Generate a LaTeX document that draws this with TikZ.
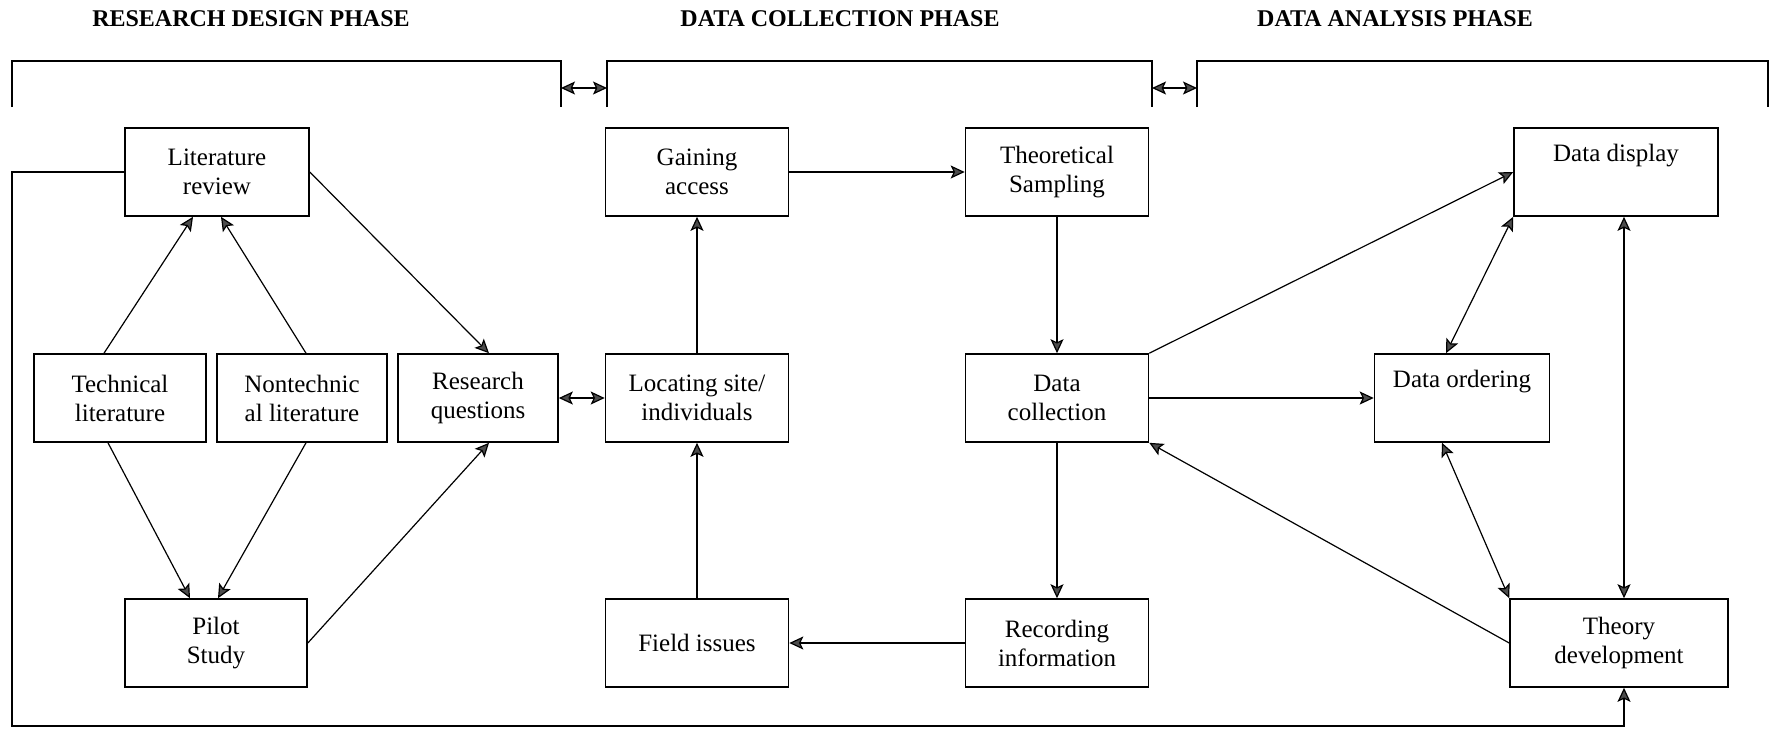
\documentclass[tikz,border=0pt]{standalone}
\usepackage{fontspec}
\setmainfont{Liberation Serif}
\usetikzlibrary{arrows.meta}
\tikzset{
    phase-title/.style = {font=\fontsize{12}{14}\selectfont\bfseries, inner sep=0pt},
    phase-box/.style = {draw, line width=0.8pt, rectangle, minimum height=44pt, align=center, inner sep=2pt, font=\fontsize{12.5}{14.5}\selectfont},
    bracket-line/.style = {line width=0.8pt},
    flow-arrow/.style = {line width=0.6pt, -{Stealth[length=7pt, width=6.5pt, inset=1.5pt, fill=black!70]}},
    both-arrow/.style = {line width=0.6pt, {Stealth[length=7pt, width=6.5pt, inset=1.5pt, fill=black!70]}-{Stealth[length=7pt, width=6.5pt, inset=1.5pt, fill=black!70]}},
}
\begin{document}
\begin{tikzpicture}[x=0.5pt, y=-0.5pt]
\useasboundingbox (0,0) rectangle (1771,730);

% phase titles and brackets
\node[phase-title] (design-title) at (251,19) {RESEARCH DESIGN PHASE};
\node[phase-title] (collect-title) at (840,19) {DATA COLLECTION PHASE};
\node[phase-title] (analysis-title) at (1395,19) {DATA ANALYSIS PHASE};
\draw[bracket-line] (12,107) |- (561,61) -- (561,107);
\draw[bracket-line] (607,107) |- (1152,61) -- (1152,107);
\draw[bracket-line] (1197,107) |- (1768,61) -- (1768,107);
\coordinate (design-end) at (561,88);
\coordinate (collect-start) at (607,88);
\coordinate (collect-end) at (1152,88);
\coordinate (analysis-start) at (1197,88);
\draw[both-arrow] (design-end) -- (collect-start);
\draw[both-arrow] (collect-end) -- (analysis-start);

% research design
\node[phase-box, minimum width=92pt] (litrev) at (217,172) {Literature\\review};
\node[phase-box, minimum width=86pt] (techlit) at (120,398) {Technical\\literature};
\node[phase-box, minimum width=85pt] (nontechlit) at (302,398) {Nontechnic\\al literature};
\node[phase-box, minimum width=80pt] (resq) at (478,398) {Research\\questions};
\node[phase-box, minimum width=91pt] (pilot) at (216,643) {Pilot\\Study};

% data collection
\node[phase-box, minimum width=91.5pt] (gain) at (697,172) {Gaining\\access};
\node[phase-box, minimum width=91.5pt] (locate) at (697,398) {Locating site/\\individuals};
\node[phase-box, minimum width=91.5pt] (field) at (697,643) {Field issues};
\node[phase-box, minimum width=91.5pt] (theosamp) at (1057,172) {Theoretical\\Sampling};
\node[phase-box, minimum width=91.5pt] (datacol) at (1057,398) {Data\\collection};
\node[phase-box, minimum width=91.5pt] (record) at (1057,643) {Recording\\information};

% data analysis
\node[phase-box, minimum width=102pt] (display) at (1616,172) {Data display\\\strut};
\node[phase-box, minimum width=87.5pt] (ordering) at (1462,398) {Data ordering\\\strut};
\node[phase-box, minimum width=109pt] (theory) at (1619,643) {Theory\\development};

% arrows
\draw[flow-arrow] ([xshift=-8pt]techlit.north) -- ([xshift=-12pt]litrev.south);
\draw[flow-arrow] ([xshift=2pt]nontechlit.north) -- ([xshift=2pt]litrev.south);
\draw[flow-arrow] (litrev.east) -- ([xshift=5.5pt]resq.north);
\draw[flow-arrow] ([xshift=-6pt]techlit.south) -- ([xshift=-13pt]pilot.south |- pilot.north);
\draw[flow-arrow] ([xshift=2pt]nontechlit.south) -- ([xshift=1pt]pilot.north);
\draw[flow-arrow] (pilot.east) -- ([xshift=5.5pt]resq.south);
\draw[both-arrow] (resq.east) -- (locate.west);
\draw[flow-arrow] (locate.north) -- (gain.south);
\draw[flow-arrow] (field.north) -- (locate.south);
\draw[flow-arrow] (gain.east) -- (theosamp.west);
\draw[flow-arrow] (theosamp.south) -- (datacol.north);
\draw[flow-arrow] (datacol.south) -- (record.north);
\draw[flow-arrow] (record.west) -- (field.east);
\draw[flow-arrow] (datacol.north east) -- (display.west);
\draw[flow-arrow] (datacol.east) -- (ordering.west);
\draw[flow-arrow] (theory.west) -- (datacol.south east);
\draw[both-arrow] (display.south west) -- ([xshift=-8pt]ordering.north);
\draw[both-arrow] ([xshift=-10pt]ordering.south) -- (theory.north west);
\draw[both-arrow] ([xshift=4pt]display.south) -- ([xshift=4pt]display.south |- theory.north);

% feedback loop
\coordinate (loop-corner) at (12,726);
\draw[flow-arrow] (litrev.west) -| (loop-corner) -| ([xshift=2.5pt]theory.south);
\end{tikzpicture}
\end{document}
